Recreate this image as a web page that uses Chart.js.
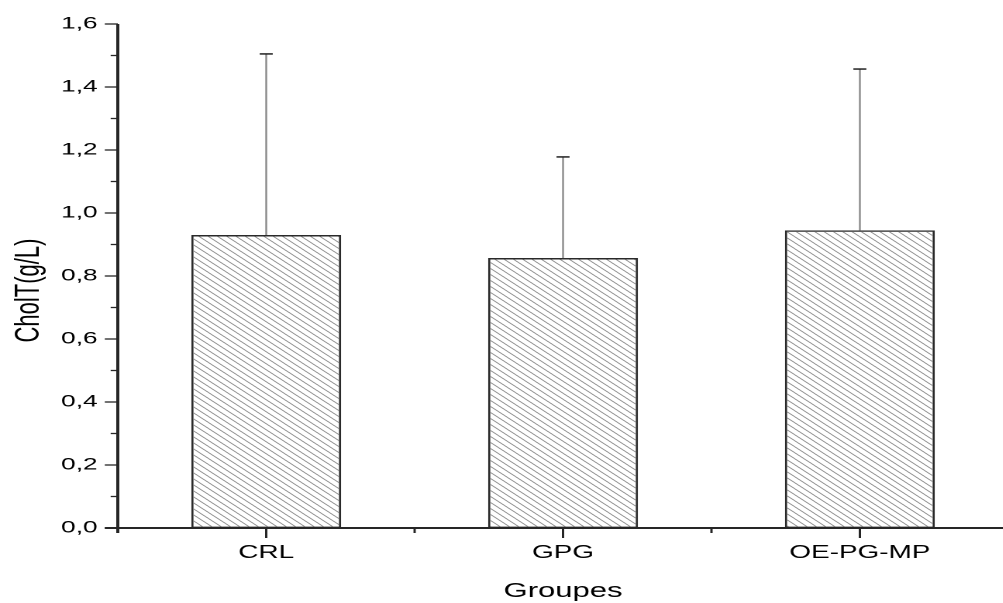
<!DOCTYPE html>
<html>
<head>
<meta charset="utf-8">
<script src="https://cdn.jsdelivr.net/npm/chart.js@4.4.0/dist/chart.umd.min.js"></script>
<style>
  html, body { margin: 0; padding: 0; background: #fff; overflow: hidden; }
  /* the original figure is stretched sideways, so draw narrow and stretch */
  #wrap { position: absolute; left: 0; top: 0; width: 652px; height: 603px;
          transform: scaleX(1.55); transform-origin: 0 0; }
</style>
</head>
<body>
<div id="wrap"><canvas id="cholChart" width="652" height="603"></canvas></div>
<script>
// --- data ---
const groups = ['CRL', 'GPG', 'OE-PG-MP'];
const cholValues = [0.930, 0.857, 0.945];
const sdValues = [0.575, 0.321, 0.512];
const yMin = 0;
const yMax = 1.6;
const yStep = 0.1;          // minor ticks, labels on every second one
const yTitle = 'CholT(g/L)';
const xTitle = 'Groupes';

const FONT = "'Liberation Sans', Arial, sans-serif";

// diagonal hatch like the Origin fill
function makeHatch() {
  const s = 12;              // tile drawn at 2x, scaled back below
  const c = document.createElement('canvas');
  c.width = s; c.height = s;
  const g = c.getContext('2d');
  g.strokeStyle = '#858585';
  g.lineWidth = 1.5;
  for (let k = -1; k <= 1; k++) {
    g.beginPath();
    g.moveTo(-1, -1 + k * s);
    g.lineTo(s + 1, s + 1 + k * s);
    g.stroke();
  }
  const p = g.createPattern(c, 'repeat');
  p.setTransform(new DOMMatrix().scale(0.5));
  return p;
}

// error bars (upper only, grey stem, black cap)
const errorBars = {
  id: 'errorBars',
  afterDatasetsDraw(chart) {
    const ctx = chart.ctx;
    const y = chart.scales.y;
    const meta = chart.getDatasetMeta(0);
    ctx.save();
    meta.data.forEach((bar, i) => {
      const y0 = y.getPixelForValue(cholValues[i]);
      const y1 = y.getPixelForValue(cholValues[i] + sdValues[i]);
      ctx.strokeStyle = '#8a8a8a';
      ctx.lineWidth = 1.2;
      ctx.beginPath();
      ctx.moveTo(bar.x, y0);
      ctx.lineTo(bar.x, y1);
      ctx.stroke();
      ctx.strokeStyle = '#222';
      ctx.lineWidth = 1.5;
      ctx.beginPath();
      ctx.moveTo(bar.x - 4.2, y1);
      ctx.lineTo(bar.x + 4.2, y1);
      ctx.stroke();
    });
    ctx.restore();
  }
};

// axis lines, major/minor ticks and titles
const axesDecor = {
  id: 'axesDecor',
  afterDraw(chart) {
    const ctx = chart.ctx;
    const area = chart.chartArea;
    const x = chart.scales.x;
    const y = chart.scales.y;
    ctx.save();
    ctx.strokeStyle = '#262626';

    // y axis
    ctx.lineWidth = 2;
    ctx.beginPath();
    ctx.moveTo(area.left, area.top);
    ctx.lineTo(area.left, area.bottom + 5);
    ctx.stroke();
    y.ticks.forEach((t, i) => {
      const py = y.getPixelForValue(t.value);
      const len = i % 2 === 0 ? 8.4 : 4.6;
      ctx.lineWidth = 1.3;
      ctx.beginPath();
      ctx.moveTo(area.left - len, py);
      ctx.lineTo(area.left, py);
      ctx.stroke();
    });

    // x axis
    ctx.lineWidth = 2;
    ctx.beginPath();
    ctx.moveTo(area.left - 8.4, area.bottom);
    ctx.lineTo(chart.width, area.bottom);
    ctx.stroke();
    const half = (x.getPixelForValue(1) - x.getPixelForValue(0)) / 2;
    ctx.lineWidth = 1.5;
    groups.forEach((g, i) => {
      const px = x.getPixelForValue(i);
      ctx.beginPath();
      ctx.moveTo(px, area.bottom);
      ctx.lineTo(px, area.bottom + 10);
      ctx.stroke();
      ctx.beginPath();
      ctx.moveTo(px + half, area.bottom);
      ctx.lineTo(px + half, area.bottom + 5);
      ctx.stroke();
    });

    // titles
    ctx.fillStyle = '#000';
    ctx.textAlign = 'center';
    ctx.font = '20px ' + FONT;
    ctx.textBaseline = 'alphabetic';
    ctx.fillText(xTitle, (area.left + area.right) / 2, 597);

    ctx.font = '22px ' + FONT;
    ctx.textBaseline = 'middle';
    ctx.translate(18.7, 290.5);
    ctx.rotate(-Math.PI / 2);
    ctx.fillText(yTitle, 0, 0);
    ctx.restore();
  }
};

const ctx = document.getElementById('cholChart').getContext('2d');
new Chart(ctx, {
  type: 'bar',
  data: {
    labels: groups,
    datasets: [{
      data: cholValues,
      backgroundColor: makeHatch(),
      borderColor: '#2a2a2a',
      borderWidth: 1.4,
      borderSkipped: false,
      barPercentage: 0.505,
      categoryPercentage: 1.0
    }]
  },
  options: {
    responsive: false,
    animation: false,
    devicePixelRatio: 2,
    layout: { padding: { left: 0, right: 1.5, top: 24, bottom: 0 } },
    plugins: {
      legend: { display: false },
      tooltip: { enabled: false }
    },
    scales: {
      x: {
        grid: { display: false, drawTicks: false },
        border: { display: false },
        ticks: {
          padding: 14,
          color: '#000',
          font: { family: FONT, size: 18 }
        },
        afterFit: (scale) => { scale.height = 75; }
      },
      y: {
        min: yMin,
        max: yMax,
        grid: { display: false, drawTicks: false },
        border: { display: false },
        ticks: {
          stepSize: yStep,
          padding: 13,
          color: '#000',
          font: { family: FONT, size: 17 },
          callback: (value, index) => index % 2 === 0 ? value.toFixed(1).replace('.', ',') : ''
        },
        afterFit: (scale) => { scale.width = 76; }
      }
    }
  },
  plugins: [errorBars, axesDecor]
});
</script>
</body>
</html>
